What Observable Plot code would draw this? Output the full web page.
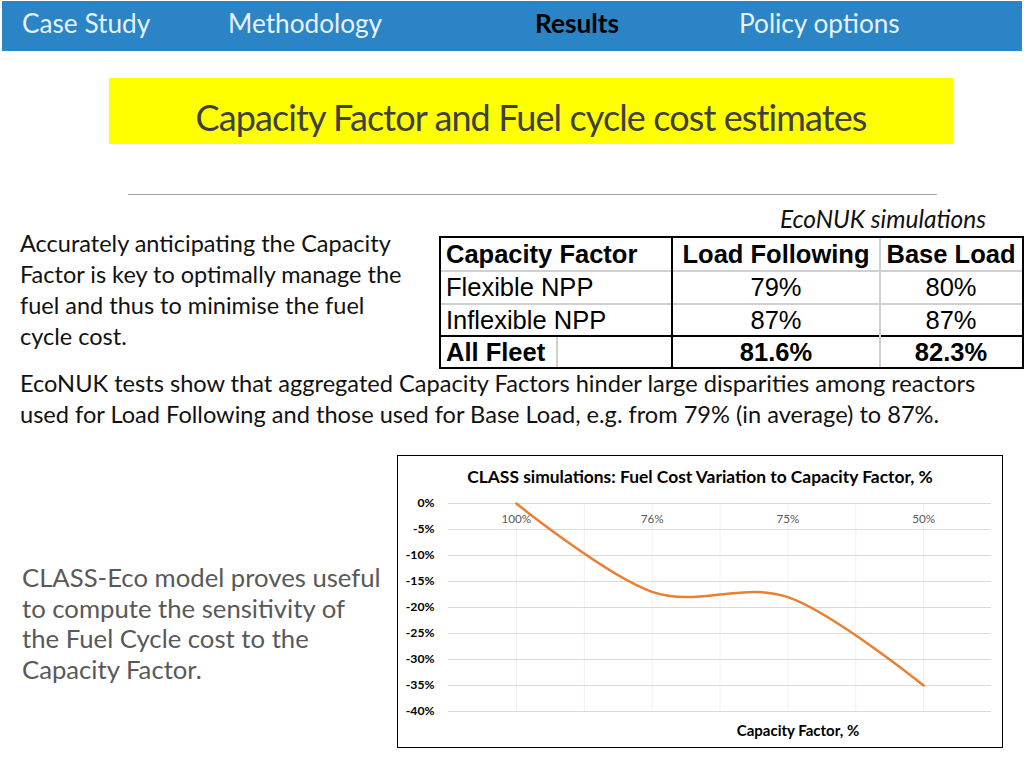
<!DOCTYPE html>
<html><head><meta charset="utf-8">
<script src="https://cdn.jsdelivr.net/npm/d3@7"></script>
<script src="https://cdn.jsdelivr.net/npm/@observablehq/plot@0.6"></script>
<style>
html,body{margin:0;padding:0;}
body{width:1024px;height:768px;position:relative;background:#fff;overflow:hidden;font-family:Lato, "Open Sans", sans-serif;}
.t{position:absolute;white-space:nowrap;}
.ln{position:absolute;}
</style></head><body>
<div id="page"></div>
<script>
// ---------- data ----------
const navItems = ["Case Study", "Methodology", "Results", "Policy options"];
const navX = [22, 228, 535, 739];
const activeNav = "Results";

const tableHeader = ["Capacity Factor", "Load Following", "Base Load"];
const tableRowLabels = ["Flexible NPP", "Inflexible NPP", "All Fleet"];
const loadFollowing = ["79%", "87%", "81.6%"];
const baseLoad = ["80%", "87%", "82.3%"];

const categories = ["100%", "76%", "75%", "50%"];           // capacity factor
const fuelCostVariation = [0, -17, -18, -35];                // % change of fuel cycle cost
const yTicks = [0, -5, -10, -15, -20, -25, -30, -35, -40];

// ---------- helpers ----------
const page = document.getElementById("page");
function txt(s, o) {
  const d = document.createElement("div");
  d.className = "t";
  d.textContent = s;
  const h = o.h || 40;
  d.style.top = (o.cy - h / 2) + "px";
  d.style.height = h + "px";
  d.style.lineHeight = h + "px";
  d.style.fontSize = o.size + "px";
  if (o.weight) d.style.fontWeight = o.weight;
  if (o.italic) d.style.fontStyle = "italic";
  if (o.family) d.style.fontFamily = o.family;
  if (o.ls) d.style.letterSpacing = o.ls + "px";
  d.style.color = o.color || "#000";
  if (o.align === "center") { d.style.left = (o.x - 500) + "px"; d.style.width = "1000px"; d.style.textAlign = "center"; }
  else if (o.align === "right") { d.style.left = (o.x - 1000) + "px"; d.style.width = "1000px"; d.style.textAlign = "right"; }
  else d.style.left = o.x + "px";
  (o.parent || page).appendChild(d);
  return d;
}
function rect(x, y, w, h, color, parent) {
  const d = document.createElement("div");
  d.className = "ln";
  Object.assign(d.style, {left: x + "px", top: y + "px", width: w + "px", height: h + "px", background: color});
  (parent || page).appendChild(d);
  return d;
}

// ---------- header bar ----------
rect(2, 1, 1020, 50, "#2a84c6");
navItems.forEach((s, i) => txt(s, {x: navX[i], cy: 23, size: 26.2, weight: s === activeNav ? "bold" : "normal", color: s === activeNav ? "#000" : "#e8f1fa"}));

// ---------- title ----------
rect(109, 78, 844, 66, "#ffff00");
txt("Capacity Factor and Fuel cycle cost estimates", {x: 531, cy: 117, size: 36, align: "center", color: "#404040", ls: -0.9});
rect(128, 194, 809, 1, "#a6a6a6");

// ---------- texts ----------
txt("EcoNUK simulations", {x: 986, cy: 219, size: 24.5, italic: true, align: "right", color: "#111"});
["Accurately anticipating the Capacity", "Factor is key to optimally manage the", "fuel and thus to minimise the fuel", "cycle cost."]
  .forEach((s, i) => txt(s, {x: 20, cy: 243 + i * 31, size: 23.5, color: "#111"}));
["EcoNUK tests show that aggregated Capacity Factors hinder large disparities among reactors", "used for Load Following and those used for Base Load, e.g. from 79% (in average) to 87%."]
  .forEach((s, i) => txt(s, {x: 20, cy: 383 + i * 31, size: 23.6, color: "#111"}));
["CLASS-Eco model proves useful", "to compute the sensitivity of", "the Fuel Cycle cost to the", "Capacity Factor."]
  .forEach((s, i) => txt(s, {x: 22, cy: 577 + i * 30.5, size: 25.7, color: "#595959"}));

// ---------- table ----------
const tf = "'Liberation Sans', Arial, sans-serif";
const rowCy = [254, 287, 320, 352];
rect(439, 236, 585, 2, "#000"); rect(439, 367, 585, 2, "#000");
rect(439, 236, 2, 133, "#000"); rect(1022, 236, 2, 133, "#000");
rect(441, 270, 581, 1.5, "#d0d0d0"); rect(441, 303, 581, 1.5, "#d0d0d0");
rect(441, 335, 581, 2, "#000");
rect(671, 238, 2, 129, "#000");
rect(879, 238, 1.5, 129, "#d0d0d0");
rect(556, 337, 1.5, 30, "#d0d0d0");
txt(tableHeader[0], {x: 446, cy: rowCy[0], size: 25.5, weight: "bold", family: tf, h: 33});
txt(tableHeader[1], {x: 776, cy: rowCy[0], size: 25.5, weight: "bold", family: tf, h: 33, align: "center"});
txt(tableHeader[2], {x: 951, cy: rowCy[0], size: 25.5, weight: "bold", family: tf, h: 33, align: "center"});
tableRowLabels.forEach((s, i) => {
  const w = i === 2 ? "bold" : "normal";
  txt(s, {x: 446, cy: rowCy[i + 1], size: 25.5, weight: w, family: tf, h: 33});
  txt(loadFollowing[i], {x: 776, cy: rowCy[i + 1], size: 25.5, weight: w, family: tf, h: 33, align: "center"});
  txt(baseLoad[i], {x: 951, cy: rowCy[i + 1], size: 25.5, weight: w, family: tf, h: 33, align: "center"});
});

// ---------- chart ----------
const box = document.createElement("div");
Object.assign(box.style, {position: "absolute", left: "397px", top: "455px", width: "604px", height: "291px", border: "1px solid #000"});
page.appendChild(box);
txt("CLASS simulations: Fuel Cost Variation to Capacity Factor, %", {x: 302, cy: 21, size: 17.4, weight: "bold", align: "center", color: "#000", parent: box});
txt("Capacity Factor, %", {x: 400, cy: 274, size: 15, weight: "bold", align: "center", color: "#000", parent: box});

const data = categories.map((c, i) => ({i, cat: c, v: fuelCostVariation[i]}));
const xGrid = d3.range(0, categories.length - 1 + 0.001, 0.5);

const chart = Plot.plot({
  width: 604, height: 291,
  marginLeft: 50, marginRight: 11, marginTop: 47, marginBottom: 36,
  style: {fontFamily: "Lato, sans-serif", background: "transparent", color: "#000", overflow: "visible"},
  x: {domain: [-0.5, categories.length - 0.5], axis: null},
  y: {domain: [-40, 0], label: null},
  marks: [
    Plot.ruleX(xGrid, {stroke: "#f0f0f0", strokeWidth: 1}),
    Plot.ruleY(yTicks, {stroke: "#d9d9d9", strokeWidth: 1}),
    Plot.axisY({ticks: yTicks, tickFormat: d => d + "%", tickSize: 0, tickPadding: 14, fontWeight: "bold", fontSize: 12.2, label: null}),
    Plot.text(data, {x: "i", y: 0, text: "cat", dy: 16, fill: "#595959", fontSize: 11.7}),
    Plot.line(data, {x: "i", y: "v", curve: "cardinal", stroke: "#ed7d31", strokeWidth: 2.5})
  ]
});
chart.style.position = "absolute";
chart.style.left = "0px";
chart.style.top = "0px";
box.appendChild(chart);
</script>
</body></html>
